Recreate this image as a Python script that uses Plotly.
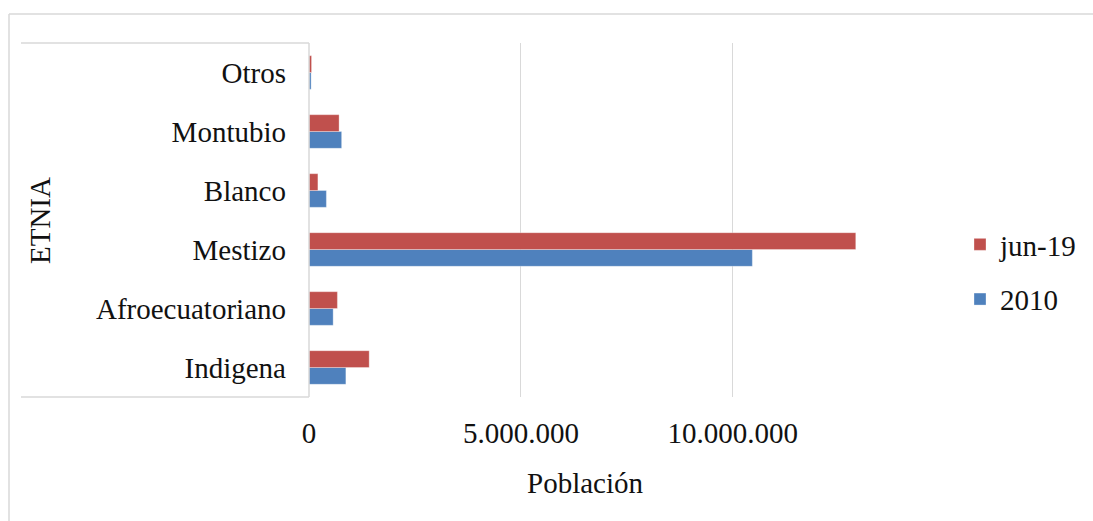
import plotly.graph_objects as go

categories = ["Indigena", "Afroecuatoriano", "Mestizo", "Blanco", "Montubio", "Otros"]
values_2010 = [870000, 570000, 10460000, 410000, 770000, 50000]
values_jun19 = [1420000, 670000, 12900000, 210000, 710000, 60000]
x_tickvals = [0, 5000000, 10000000]
x_ticktext = ["0", "5.000.000", "10.000.000"]

W, H = 1093, 521
L, R, T, B = 309, 860, 43, 397

def px(x):
    return (x - L) / (R - L)

def py(y):
    return (B - y) / (B - T)

FONT = "Liberation Serif"
GRID = "#d9d9d9"
FS = 29

fig = go.Figure()
fig.add_trace(go.Bar(y=categories, x=values_2010, orientation="h", name="2010",
                     legendgroup="g2", legendrank=2,
                     marker=dict(color="#4F81BD", line=dict(color="rgba(255,255,255,0.4)", width=0.8))))
fig.add_trace(go.Bar(y=categories, x=values_jun19, orientation="h", name="jun-19",
                     legendgroup="g1", legendrank=1,
                     marker=dict(color="#C0504D", line=dict(color="rgba(255,255,255,0.4)", width=0.8))))

shapes = [
    dict(type="line", xref="paper", yref="paper", x0=px(9), x1=px(1100), y0=py(14), y1=py(14),
         line=dict(color=GRID, width=1.5)),
    dict(type="line", xref="paper", yref="paper", x0=px(9), x1=px(9), y0=py(14), y1=py(530),
         line=dict(color=GRID, width=1.5)),
    dict(type="line", xref="paper", yref="paper", x0=px(21), x1=px(309), y0=py(43), y1=py(43),
         line=dict(color=GRID, width=1.5)),
    dict(type="line", xref="paper", yref="paper", x0=px(21), x1=px(309), y0=py(397), y1=py(397),
         line=dict(color=GRID, width=1.5)),
    dict(type="line", xref="paper", yref="paper", x0=px(309), x1=px(309), y0=py(43), y1=py(397),
         line=dict(color=GRID, width=1.5)),
]

annotations = [
    dict(text="ETNIA", xref="paper", yref="paper", x=px(40), y=py(221), showarrow=False,
         textangle=-90, font=dict(family=FONT, size=FS, color="#111"), xanchor="center", yanchor="middle"),
    dict(text="Población", xref="paper", yref="paper", x=0.5, y=py(483), showarrow=False,
         font=dict(family=FONT, size=FS, color="#111"), xanchor="center", yanchor="middle"),
]

fig.update_layout(
    width=W, height=H,
    margin=dict(l=L, r=W - R, t=T, b=H - B, pad=0, autoexpand=False),
    paper_bgcolor="white", plot_bgcolor="white",
    barmode="group", bargap=0.43, bargroupgap=0,
    font=dict(family=FONT, size=FS, color="#111"),
    shapes=shapes, annotations=annotations,
    legend=dict(x=px(960), y=py(272), xanchor="left", yanchor="middle",
                traceorder="grouped", font=dict(family=FONT, size=FS, color="#111"),
                bgcolor="rgba(0,0,0,0)", itemwidth=30, tracegroupgap=14),
    showlegend=True,
)
fig.update_xaxes(range=[0, 13000000], tickvals=x_tickvals, ticktext=x_ticktext,
                 showgrid=True, gridcolor=GRID, gridwidth=1, zeroline=False,
                 showline=False, ticks="", ticklabelstandoff=16, fixedrange=True)
fig.update_yaxes(showgrid=False, zeroline=False, showline=False, ticks="",
                 ticklabelstandoff=22, fixedrange=True)

fig.write_html("out.html", config={"displayModeBar": False, "responsive": False},
               post_script="document.body.style.margin='0';document.body.style.overflow='hidden';")
